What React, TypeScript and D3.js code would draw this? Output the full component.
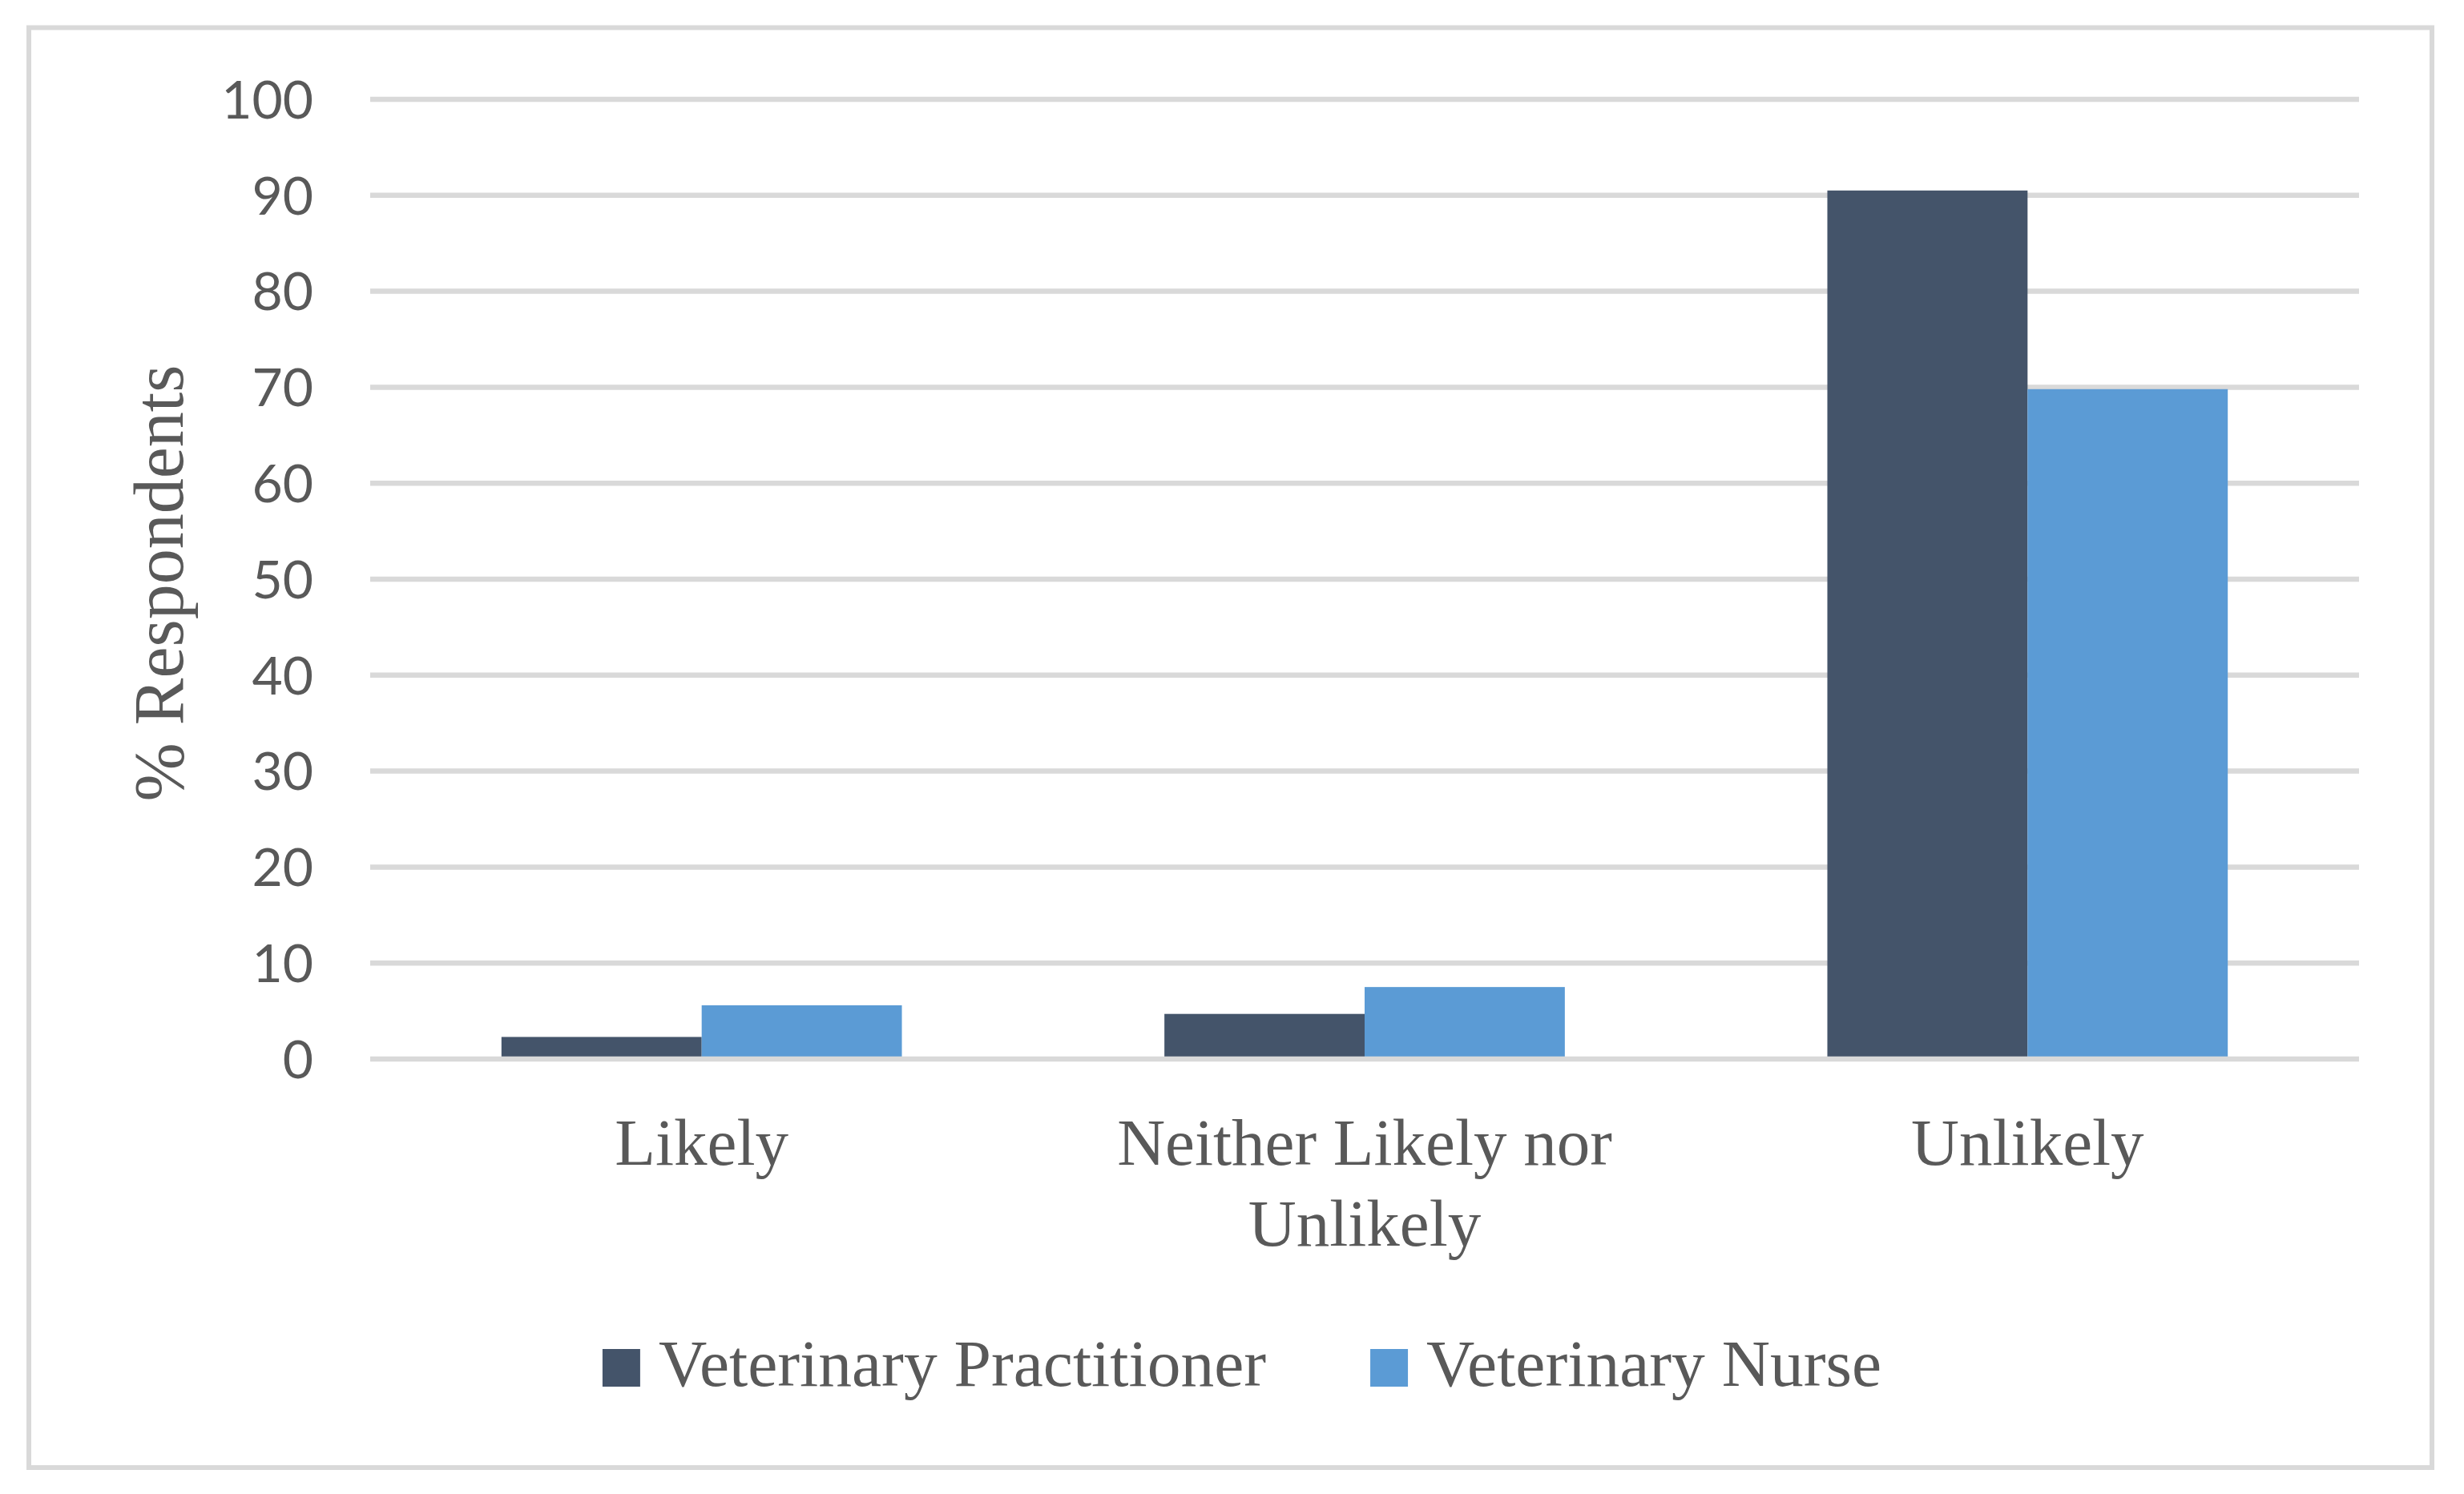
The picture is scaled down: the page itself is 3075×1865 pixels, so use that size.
import React, { useEffect, useRef } from "react";
import * as d3 from "d3";

const categories = ["Likely", "Neither Likely nor Unlikely", "Unlikely"];
const seriesNames = ["Veterinary Practitioner", "Veterinary Nurse"];
const practitioner = [2.3, 4.7, 90.5];
const nurse = [5.6, 7.5, 69.8];
const yTicks = [0, 10, 20, 30, 40, 50, 60, 70, 80, 90, 100];
const yTitle = "% Respondents";

const colors = ["#44546A", "#5B9BD5"];
const textColor = "#595959";
const gridColor = "#D9D9D9";
const serif = "'Liberation Serif', 'Times New Roman', serif";
const sans = "Lato, 'Open Sans', sans-serif";

export default function App() {
  const ref = useRef<SVGSVGElement>(null);

  useEffect(() => {
    const width = 3075;
    const height = 1865;
    const margin = { top: 124, right: 131, bottom: 543, left: 462 };

    const svg = d3.select(ref.current);
    svg.selectAll("*").remove();

    // outer frame
    svg
      .append("rect")
      .attr("x", 36)
      .attr("y", 34.5)
      .attr("width", 2999)
      .attr("height", 1797.5)
      .attr("fill", "#fff")
      .attr("stroke", gridColor)
      .attr("stroke-width", 6);

    const xScale = d3
      .scaleBand<string>()
      .domain(categories)
      .range([margin.left, width - margin.right])
      .paddingInner(0.396)
      .paddingOuter(0.198);

    const xSub = d3
      .scaleBand<string>()
      .domain(seriesNames)
      .range([0, xScale.bandwidth()]);

    const yScale = d3
      .scaleLinear()
      .domain([0, 100])
      .range([height - margin.bottom, margin.top]);

    // gridlines
    const grid = svg.append("g");
    grid
      .selectAll("line")
      .data(yTicks.filter((t) => t !== 0))
      .enter()
      .append("line")
      .attr("x1", margin.left)
      .attr("x2", width - margin.right)
      .attr("y1", (d) => yScale(d))
      .attr("y2", (d) => yScale(d))
      .attr("stroke", gridColor)
      .attr("stroke-width", 6.5);

    // y tick labels
    svg
      .append("g")
      .selectAll("text")
      .data(yTicks)
      .enter()
      .append("text")
      .attr("x", 391)
      .attr("y", (d) => yScale(d))
      .attr("dy", "0.36em")
      .attr("text-anchor", "end")
      .attr("font-family", sans)
      .attr("font-size", 66)
      .attr("fill", textColor)
      .text((d) => d);

    // bars
    const series = [practitioner, nurse];
    const groups = svg
      .append("g")
      .selectAll("g")
      .data(categories)
      .enter()
      .append("g")
      .attr("transform", (d) => `translate(${xScale(d)},0)`);

    groups
      .selectAll("rect")
      .data((_, i) => seriesNames.map((name, s) => ({ name, s, value: series[s][i] })))
      .enter()
      .append("rect")
      .attr("x", (d) => xSub(d.name) ?? 0)
      .attr("width", xSub.bandwidth())
      .attr("y", (d) => yScale(d.value))
      .attr("height", (d) => yScale(0) - yScale(d.value))
      .attr("fill", (d) => colors[d.s]);

    // axis line on top of bars
    svg
      .append("line")
      .attr("x1", margin.left)
      .attr("x2", width - margin.right)
      .attr("y1", yScale(0))
      .attr("y2", yScale(0))
      .attr("stroke", gridColor)
      .attr("stroke-width", 6.5);

    // category labels, wrapped
    const maxW = 700;
    const lineH = 101;
    categories.forEach((cat) => {
      const cx = (xScale(cat) ?? 0) + xScale.bandwidth() / 2;
      const t = svg
        .append("text")
        .attr("text-anchor", "middle")
        .attr("font-family", serif)
        .attr("font-size", 83)
        .attr("fill", textColor);
      const words = cat.split(" ");
      let line: string[] = [];
      let n = 0;
      let ts = t.append("tspan").attr("x", cx).attr("y", 1454);
      words.forEach((w) => {
        line.push(w);
        ts.text(line.join(" "));
        if ((ts.node() as SVGTSpanElement).getComputedTextLength() > maxW && line.length > 1) {
          line.pop();
          ts.text(line.join(" "));
          line = [w];
          n += 1;
          ts = t
            .append("tspan")
            .attr("x", cx)
            .attr("y", 1454 + n * lineH)
            .text(w);
        }
      });
    });

    // y title
    svg
      .append("text")
      .attr("transform", `translate(228, 728) rotate(-90)`)
      .attr("text-anchor", "middle")
      .attr("font-family", serif)
      .attr("font-size", 88)
      .attr("fill", textColor)
      .text(yTitle);

    // legend
    const legend = svg.append("g");
    const sq = 47;
    const gap = 23;
    const itemGap = 130;
    const items = seriesNames.map((name, i) => {
      const g = legend.append("g");
      g.append("rect")
        .attr("x", 0)
        .attr("y", 1684)
        .attr("width", sq)
        .attr("height", sq)
        .attr("fill", colors[i]);
      const tx = g
        .append("text")
        .attr("x", sq + gap)
        .attr("y", 1730)
        .attr("font-family", serif)
        .attr("font-size", 83.5)
        .attr("fill", textColor)
        .text(name);
      const w = (tx.node() as SVGTextElement).getComputedTextLength();
      return { g, w: sq + gap + w };
    });
    const total = d3.sum(items, (d) => d.w) + itemGap * (items.length - 1);
    let x0 = 1550 - total / 2;
    items.forEach((it) => {
      it.g.attr("transform", `translate(${x0},0)`);
      x0 += it.w + itemGap;
    });
  }, []);

  return (
    <svg
      ref={ref}
      width={3075}
      height={1865}
      style={{ position: "absolute", left: 0, top: 0, background: "#fff" }}
    />
  );
}
